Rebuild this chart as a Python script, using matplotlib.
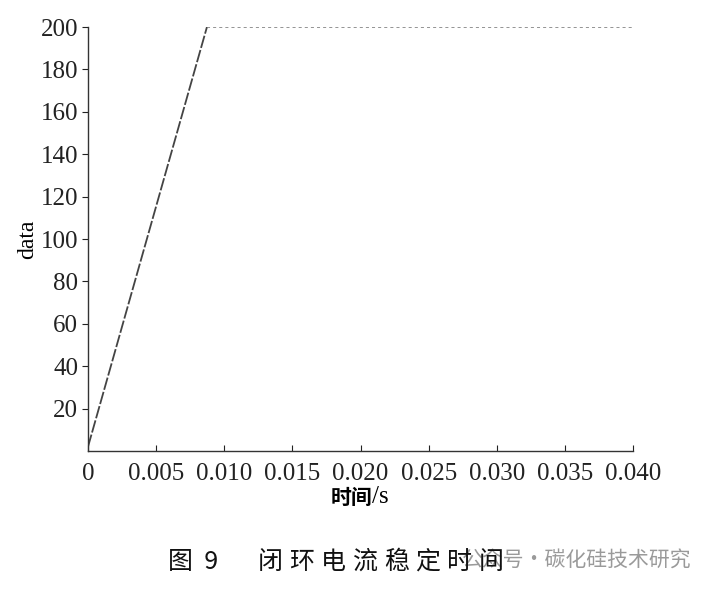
import matplotlib
matplotlib.use("Agg")
import matplotlib.pyplot as plt

t = [0.0, 0.00873, 0.040]
data = [2.0, 200.0, 200.0]
xticks = [0, 0.005, 0.010, 0.015, 0.020, 0.025, 0.030, 0.035, 0.040]
xticklabels = ["0", "0.005", "0.010", "0.015", "0.020", "0.025", "0.030", "0.035", "0.040"]
yticks = [20, 40, 60, 80, 100, 120, 140, 160, 180, 200]
caption_num = "图  9"
caption_title = "闭环电流稳定时间"
watermark = "公众号·碳化硅技术研究"

serif = ["Liberation Serif", "DejaVu Serif"]
cjk = ["Noto Sans CJK SC", "DejaVu Sans"]

fig = plt.figure(figsize=(7.16, 5.91), dpi=100)
ax = fig.add_axes([88/716, 1-451/591, 545/716, 424/591])
ax.plot(t[:2], data[:2], color="#444444", lw=1.3, linestyle=(0, (7, 1.2)))
ax.plot(t[1:], data[1:], color="#777777", lw=1.1, linestyle=(0, (2, 2)))
ax.set_xlim(0, 0.040)
ax.set_ylim(0, 200)
for s in ["top", "right"]:
    ax.spines[s].set_visible(False)
for s in ["left", "bottom"]:
    ax.spines[s].set_color("#333333")
    ax.spines[s].set_linewidth(1.0)
ax.set_xticks(xticks)
ax.set_xticklabels(xticklabels, fontfamily=serif, fontsize=18)
ax.set_yticks(yticks)
ax.set_yticklabels([str(v) for v in yticks], fontfamily=serif, fontsize=18)
ax.tick_params(axis="x", direction="in", length=4, pad=9, colors="#222222")
ax.tick_params(axis="y", direction="out", length=4, pad=3, colors="#222222")
ax.set_ylabel("data", fontfamily=serif, fontsize=17, labelpad=2)
fig.text(0.52, 1-497/591, "时间", fontfamily=cjk, fontsize=15, fontweight="bold",
         ha="right", va="center")
fig.text(0.52, 1-497/591, "/s", fontfamily=serif, fontsize=18, ha="left", va="center")
fig.text(0.966, 1-560/591, watermark, fontfamily=cjk, fontsize=15,
         ha="right", va="center", color="#9a9a9a", zorder=1)
fig.text(168/716, 1-562/591, caption_num, fontfamily=cjk, fontsize=18,
         ha="left", va="center", color="#111111", zorder=2)
for i, ch in enumerate(caption_title):
    fig.text((258 + 31.5*i)/716, 1-562/591, ch, fontfamily=cjk, fontsize=18,
             ha="left", va="center", color="#111111", zorder=2)
fig.savefig("out.png", dpi=100)
